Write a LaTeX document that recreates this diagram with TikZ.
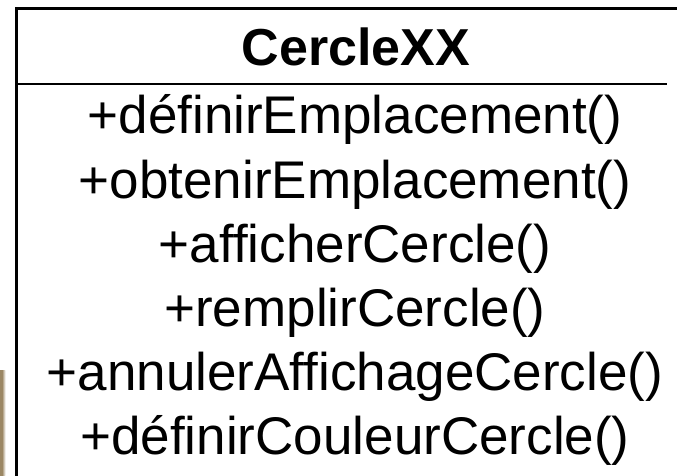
\documentclass[tikz,border=0pt]{standalone}
\usepackage{fontspec}
\setmainfont{Liberation Sans}
\newfontfamily\umlfont{Liberation Sans}
\usetikzlibrary{shadings}
\definecolor{tanbar}{HTML}{9B8764}
\tikzset{
  title/.style={anchor=base, inner sep=0pt, font=\umlfont\bfseries\fontsize{52}{56}\selectfont},
  method/.style={anchor=base, inner sep=0pt, font=\umlfont\fontsize{53}{57}\selectfont},
  border/.style={line width=3pt, black},
  divider/.style={line width=2.5pt, black}
}
\begin{document}
\begin{tikzpicture}[x=1pt, y=-1pt]
\useasboundingbox (0,0) rectangle (677,476);
% tan strip at left edge
\shade[left color=tanbar, right color=white] (2,370) rectangle (5.5,476);
\fill[tanbar] (0,370) rectangle (2,476);
% class box (cropped at right and bottom)
\coordinate (tl) at (16,8.5);
\coordinate (tr) at (680,8.5);
\coordinate (bl) at (16,480);
\coordinate (dl) at (16,84);
\coordinate (dr) at (667,84);
\draw[border] (bl) -- (tl) -- (tr);
\draw[divider] (dl) -- (dr);
% texts
\node[title]  (name) at (356,66)  {CercleXX};
\node[method] (m1)   at (355,134) {+définirEmplacement()};
\node[method] (m2)   at (355,198) {+obtenirEmplacement()};
\node[method] (m3)   at (355,262) {+afficherCercle()};
\node[method] (m4)   at (355,326) {+remplirCercle()};
\node[method] (m5)   at (355,390) {+annulerAffichageCercle()};
\node[method] (m6)   at (355,454) {+définirCouleurCercle()};
\end{tikzpicture}
\end{document}
